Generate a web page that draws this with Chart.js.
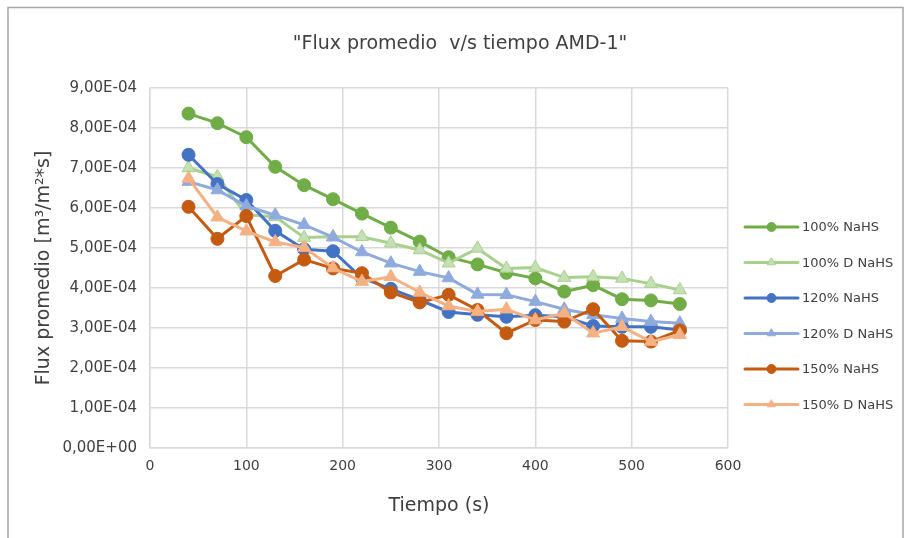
<!DOCTYPE html>
<html>
<head>
<meta charset="utf-8">
<script src="https://cdn.jsdelivr.net/npm/chart.js@4.4.1/dist/chart.umd.min.js"></script>
<style>
  html, body { margin: 0; padding: 0; background: #ffffff; }
  #wrap { width: 906px; height: 538px; }
</style>
</head>
<body>
<div id="wrap"><canvas id="fluxChart" width="906" height="538"></canvas></div>
<script>
// Tiempos de muestreo (s)
const tiempo = [40, 70, 100, 130, 160, 190, 220, 250, 280, 310, 340, 370, 400, 430, 460, 490, 520, 550];

// Flux promedio [m3/m2*s] por serie
const flux100 = [8.36e-4, 8.12e-4, 7.77e-4, 7.03e-4, 6.57e-4, 6.22e-4, 5.86e-4, 5.51e-4, 5.16e-4, 4.77e-4, 4.59e-4, 4.38e-4, 4.24e-4, 3.91e-4, 4.07e-4, 3.72e-4, 3.69e-4, 3.60e-4];
const flux100D = [7.00e-4, 6.78e-4, 5.83e-4, 5.78e-4, 5.26e-4, 5.28e-4, 5.28e-4, 5.12e-4, 4.95e-4, 4.62e-4, 4.99e-4, 4.49e-4, 4.51e-4, 4.26e-4, 4.28e-4, 4.24e-4, 4.11e-4, 3.95e-4];
const flux120 = [7.33e-4, 6.60e-4, 6.20e-4, 5.43e-4, 4.97e-4, 4.92e-4, 4.25e-4, 3.98e-4, 3.70e-4, 3.40e-4, 3.33e-4, 3.28e-4, 3.32e-4, 3.28e-4, 3.05e-4, 3.03e-4, 3.03e-4, 2.95e-4];
const flux120D = [6.66e-4, 6.45e-4, 6.05e-4, 5.82e-4, 5.58e-4, 5.27e-4, 4.90e-4, 4.62e-4, 4.41e-4, 4.25e-4, 3.84e-4, 3.83e-4, 3.66e-4, 3.47e-4, 3.33e-4, 3.24e-4, 3.16e-4, 3.12e-4];
const flux150 = [6.03e-4, 5.23e-4, 5.80e-4, 4.30e-4, 4.71e-4, 4.49e-4, 4.37e-4, 3.89e-4, 3.64e-4, 3.83e-4, 3.45e-4, 2.87e-4, 3.20e-4, 3.16e-4, 3.47e-4, 2.68e-4, 2.66e-4, 2.94e-4];
const flux150D = [6.74e-4, 5.77e-4, 5.42e-4, 5.15e-4, 5.01e-4, 4.50e-4, 4.16e-4, 4.28e-4, 3.89e-4, 3.55e-4, 3.41e-4, 3.47e-4, 3.20e-4, 3.37e-4, 2.87e-4, 3.03e-4, 2.66e-4, 2.83e-4];

const nombres = ['100% NaHS', '100% D NaHS', '120% NaHS', '120% D NaHS', '150% NaHS', '150% D NaHS'];
const series = [flux100, flux100D, flux120, flux120D, flux150, flux150D];
const colores = ['#70AD47', '#A9D18E', '#4472C4', '#8FAADC', '#C55A11', '#F4B183'];
const rellenos = ['#70AD47', '#C5E0B4', '#4472C4', '#8FAADC', '#C55A11', '#F4B183'];
const marcas = ['circle', 'triangle', 'circle', 'triangle', 'circle', 'triangle'];

const titulo = '"Flux promedio  v/s tiempo AMD-1"';

const FUENTE = "'DejaVu Sans', sans-serif";
const TEXTO = '#404040';
const GRILLA = '#d9d9d9';

// 9.00e-4 -> "9,00E-04"
function formatoCientifico(v) {
    const partes = Number(v).toExponential(2).split('e');
    const exp = parseInt(partes[1], 10);
    const signo = exp < 0 ? '-' : '+';
    const dig = String(Math.abs(exp)).padStart(2, '0');
    return partes[0].replace('.', ',') + 'E' + signo + dig;
}

const datasets = series.map((serie, i) => ({
    label: nombres[i],
    data: tiempo.map((t, j) => ({ x: t, y: serie[j] })),
    borderColor: colores[i],
    backgroundColor: rellenos[i],
    pointBackgroundColor: rellenos[i],
    pointBorderColor: colores[i],
    pointBorderWidth: 1,
    pointStyle: marcas[i],
    pointRadius: marcas[i] === 'circle' ? 6.5 : 7.5,
    borderWidth: 3,
    tension: 0,
    fill: false,
    order: series.length - i
}));

// fondo, marco gris y título centrado en el recuadro completo
const marco = {
    id: 'marco',
    beforeDraw(chart) {
        const ctx = chart.ctx;
        ctx.save();
        ctx.fillStyle = '#ffffff';
        ctx.fillRect(0, 0, chart.width, chart.height);
        ctx.strokeStyle = '#a6a6a6';
        ctx.lineWidth = 1.5;
        ctx.strokeRect(8, 7.5, 895, 560);
        ctx.fillStyle = TEXTO;
        ctx.font = '19px ' + FUENTE;
        ctx.textAlign = 'center';
        ctx.textBaseline = 'middle';
        ctx.fillText(titulo, 460, 44);
        ctx.restore();
    }
};

// leyenda a la derecha: línea + marcador + texto
const leyenda = {
    id: 'leyenda',
    afterDraw(chart) {
        const ctx = chart.ctx;
        const x0 = 745, x1 = 798, y0 = 227, paso = 35.5;
        ctx.save();
        ctx.font = '13px ' + FUENTE;
        ctx.textBaseline = 'middle';
        ctx.fillStyle = TEXTO;
        chart.data.datasets.forEach((ds, i) => {
            const y = y0 + i * paso;
            ctx.strokeStyle = ds.borderColor;
            ctx.lineWidth = 3;
            ctx.lineCap = 'round';
            ctx.beginPath();
            ctx.moveTo(x0, y);
            ctx.lineTo(x1, y);
            ctx.stroke();
            ctx.fillStyle = ds.pointBackgroundColor;
            ctx.strokeStyle = ds.pointBorderColor;
            ctx.lineWidth = 1;
            Chart.helpers.drawPoint(ctx, { pointStyle: ds.pointStyle, radius: 4.5, borderWidth: 1 }, (x0 + x1) / 2, y);
            ctx.fillStyle = TEXTO;
            ctx.fillText(ds.label, 802, y + 1);
        });
        ctx.restore();
    }
};

const ctx = document.getElementById('fluxChart').getContext('2d');
const chart = new Chart(ctx, {
    type: 'line',
    data: { datasets: datasets },
    plugins: [marco, leyenda],
    options: {
        responsive: false,
        animation: false,
        devicePixelRatio: 1,
        layout: { padding: { left: 0, right: 178, top: 88, bottom: 0 } },
        plugins: {
            legend: { display: false },
            tooltip: { enabled: false },
            title: { display: false }
        },
        scales: {
            x: {
                type: 'linear',
                min: 0,
                max: 600,
                ticks: {
                    stepSize: 100,
                    color: TEXTO,
                    padding: 10,
                    maxRotation: 0,
                    font: { family: FUENTE, size: 14 }
                },
                grid: { color: GRILLA, lineWidth: 1.5, drawTicks: false },
                border: { color: GRILLA, width: 1.5 },
                title: {
                    display: true,
                    text: 'Tiempo (s)',
                    color: TEXTO,
                    font: { family: FUENTE, size: 19, lineHeight: 1.2 },
                    padding: { top: 0, bottom: 20.6 }
                },
                afterFit(scale) { scale.height = 90; }
            },
            y: {
                min: 0,
                max: 9e-4,
                ticks: {
                    stepSize: 1e-4,
                    color: TEXTO,
                    padding: 13,
                    font: { family: FUENTE, size: 15 },
                    callback: (v) => formatoCientifico(v)
                },
                grid: { color: GRILLA, lineWidth: 1.5, drawTicks: false },
                border: { color: GRILLA, width: 1.5 },
                title: {
                    display: true,
                    text: 'Flux promedio [m³/m²*s]',
                    color: TEXTO,
                    font: { family: FUENTE, size: 19, lineHeight: 1.2 },
                    padding: { top: 32.6, bottom: 0 }
                },
                afterFit(scale) { scale.width = 150; }
            }
        }
    }
});
</script>
</body>
</html>
